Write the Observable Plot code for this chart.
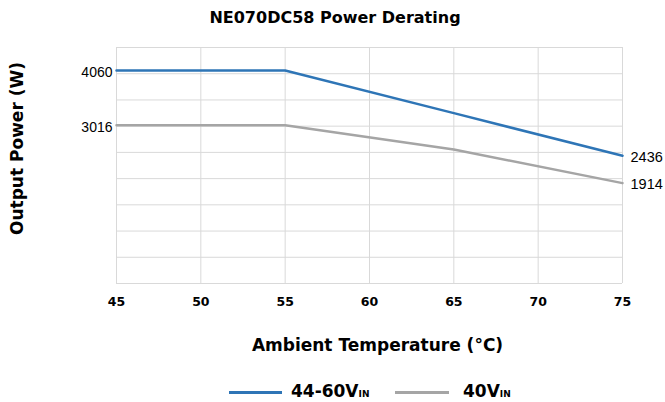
<!DOCTYPE html>
<html><head><meta charset="utf-8">
<script src="https://cdn.jsdelivr.net/npm/d3@7"></script>
<script src="https://cdn.jsdelivr.net/npm/@observablehq/plot@0.6"></script>
<style>
body{margin:0;background:#fff;width:665px;height:402px;overflow:hidden;font-family:"DejaVu Sans",sans-serif;color:#000;}
#title{height:36px;line-height:36px;text-align:center;font-weight:700;font-size:16px;padding-left:5px;}
#chart svg{display:block;}
#legend{position:relative;height:36px;}
.sw{position:absolute;height:3px;top:25px;}
.lb{position:absolute;top:14px;font-weight:700;font-size:17px;line-height:22px;white-space:nowrap;}
.lb span{font-size:9px;}
</style>
</head><body>
<div id="title"></div>
<div id="chart"></div>
<div id="legend"></div>
<script>
const chartTitle = "NE070DC58 Power Derating";
const xTitle = "Ambient Temperature (°C)";
const yTitle = "Output Power (W)";
const temps = [45, 55, 65, 75];
const power4460 = [4060, 4060, 3248, 2436];
const power40 = [3016, 3016, 2555, 1914];
const seriesNames = ["44-60V", "40V"];
const seriesSub = ["IN", "IN"];
const seriesColors = ["#2E75B6", "#A5A5A5"];
const xTicks = [45, 50, 55, 60, 65, 70, 75];
const yGrid = [0, 500, 1000, 1500, 2000, 2500, 3000, 3500, 4000, 4500];
const yTickLabels = [4060, 3016];
const endTemp = [75, 75];
const endLabels = [2436, 1914];

const seriesValues = [power4460, power40];
const rows = [];
seriesNames.forEach((s, i) => temps.forEach((t, j) => rows.push({s, t, p: seriesValues[i][j]})));
const endRows = endLabels.map((v, i) => ({t: endTemp[i], p: v}));

const chart = Plot.plot({
  width: 665, height: 330,
  marginTop: 11, marginBottom: 83, marginLeft: 116, marginRight: 43,
  x: {domain: [45, 75]},
  y: {domain: [0, 4500]},
  color: {domain: seriesNames, range: seriesColors},
  style: {fontFamily: "DejaVu Sans", color: "#000", background: "#fff"},
  marks: [
    Plot.gridX(xTicks, {stroke: "#D9D9D9", strokeOpacity: 1, strokeWidth: 1}),
    Plot.gridY(yGrid, {stroke: "#D9D9D9", strokeOpacity: 1, strokeWidth: 1}),
    Plot.axisX(xTicks, {tickSize: 0, tickPadding: 14, fontWeight: 700, fontSize: 12.5, fontFamily: "DejaVu Sans", label: null}),
    Plot.axisY(yTickLabels, {tickSize: 0, tickPadding: 4, tickFormat: d => String(d), fontSize: 14, fontFamily: "Liberation Sans", label: null, dy: 2}),
    Plot.line(rows, {x: "t", y: "p", z: "s", stroke: "s", strokeWidth: 2.5}),
    Plot.text(endRows, {x: "t", y: "p", text: d => String(d.p), textAnchor: "start", dx: 8, dy: 1.5, fontSize: 14.5, fontFamily: "Liberation Sans", fill: "#000"}),
    Plot.text([xTitle], {frameAnchor: "bottom", lineAnchor: "middle", textAnchor: "middle", dy: 62, dx: 8, fontWeight: 700, fontSize: 17, fill: "#000"}),
    Plot.text([yTitle], {frameAnchor: "left", lineAnchor: "middle", textAnchor: "middle", rotate: -90, dx: -99, dy: -17, fontWeight: 700, fontSize: 17, fill: "#000"})
  ]
});
document.getElementById("chart").appendChild(chart);
document.getElementById("title").textContent = chartTitle;

const legend = document.getElementById("legend");
const swLeft = [229, 395], swWidth = [53, 54], lbLeft = [291, 463];
seriesNames.forEach((s, i) => {
  const sw = document.createElement("div");
  sw.className = "sw";
  sw.style.left = swLeft[i] + "px";
  sw.style.width = swWidth[i] + "px";
  sw.style.background = seriesColors[i];
  legend.appendChild(sw);
  const lb = document.createElement("div");
  lb.className = "lb";
  lb.style.left = lbLeft[i] + "px";
  lb.innerHTML = s + "<span>" + seriesSub[i] + "</span>";
  legend.appendChild(lb);
});
</script>
</body></html>
